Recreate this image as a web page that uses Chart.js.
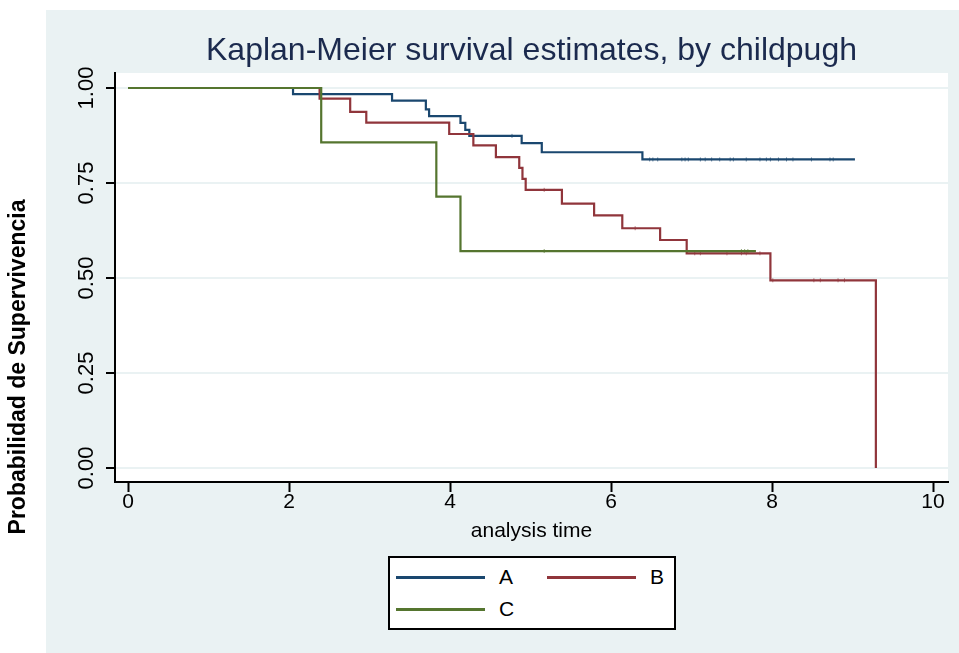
<!DOCTYPE html>
<html>
<head>
<meta charset="utf-8">
<script src="https://cdn.jsdelivr.net/npm/chart.js@4"></script>
<style>
  html, body { margin: 0; padding: 0; background: #fff; }
  #wrap { position: relative; width: 959px; height: 653px; }
  #legend {
    position: absolute; left: 388px; top: 556px; width: 284px; height: 70px;
    border: 2px solid #000; background: #fff;
    font: 21px "Liberation Sans", Arial, sans-serif; color: #000;
  }
  .item { position: absolute; height: 24px; line-height: 24px; display: flex; align-items: center; }
  .swatch { width: 89px; height: 0; border-top: 3px solid; margin-right: 14px; }
</style>
</head>
<body>
<div id="wrap">
  <canvas id="km" width="959" height="653"></canvas>
  <div id="legend">
    <div class="item" style="left:6px;top:7px"><span class="swatch" style="border-color:#1a476f"></span>A</div>
    <div class="item" style="left:157px;top:7px"><span class="swatch" style="border-color:#90353b"></span>B</div>
    <div class="item" style="left:6px;top:39px"><span class="swatch" style="border-color:#55752f"></span>C</div>
  </div>
</div>
<script>
// step times / survival estimates
const timeA = [0, 2.05, 3.28, 3.70, 3.74, 4.13, 4.19, 4.24, 4.89, 5.14, 6.39, 9.03];
const survA = [1, 0.984, 0.967, 0.944, 0.926, 0.908, 0.890, 0.874, 0.855, 0.831, 0.812, 0.812];

const timeB = [0, 2.38, 2.76, 2.96, 3.99, 4.29, 4.57, 4.86, 4.90, 4.94, 5.39, 5.79, 6.14, 6.61, 6.94, 7.98, 9.29];
const survB = [1, 0.972, 0.937, 0.909, 0.879, 0.849, 0.818, 0.790, 0.761, 0.732, 0.696, 0.665, 0.631, 0.600, 0.565, 0.494, 0];

const timeC = [0, 2.40, 3.83, 4.13, 7.80];
const survC = [1, 0.857, 0.714, 0.571, 0.571];

// censored times (small tick marks)
const censA = [4.77, 6.48, 6.52, 6.58, 6.88, 6.92, 6.96, 7.11, 7.17, 7.25, 7.35, 7.48, 7.52, 7.68, 7.85, 7.93, 7.98, 8.08, 8.18, 8.26, 8.49, 8.72, 8.76];
const censB = [5.17, 6.30, 7.04, 7.11, 7.44, 7.62, 7.68, 7.85, 8.01, 8.52, 8.60, 8.82, 8.90];
const censC = [5.17, 7.62, 7.66, 7.70];

const groups = ['A', 'B', 'C'];
const colors = ['#1a476f', '#90353b', '#55752f'];
const xTicks = [0, 2, 4, 6, 8, 10];
const yTicks = [0, 0.25, 0.5, 0.75, 1];

const PANEL = '#eaf2f3';
const FONT = '"Liberation Sans", Arial, sans-serif';

function points(times, surv) {
  return times.map((t, i) => ({ x: t, y: surv[i] }));
}

function survAt(times, surv, t) {
  let s = surv[0];
  for (let i = 0; i < times.length; i++) {
    if (times[i] <= t) s = surv[i];
  }
  return s;
}

function curve(label, times, surv, color, order) {
  return {
    label,
    data: points(times, surv),
    borderColor: color,
    borderWidth: 2.2,
    stepped: 'before', // horizontal first, then the drop
    pointRadius: 0,
    fill: false,
    order,
  };
}

function marks(times, stepT, stepS, color) {
  return {
    label: '',
    data: times.map((t) => ({ x: t, y: survAt(stepT, stepS, t) })),
    showLine: false,
    borderColor: color + 'aa',
    borderWidth: 1,
    pointStyle: 'line',
    rotation: 90,
    pointRadius: 2,
    order: 5,
  };
}

const decor = {
  id: 'decor',
  beforeDraw(chart) {
    const { ctx, chartArea: a } = chart;
    ctx.save();
    ctx.fillStyle = '#fff';
    ctx.fillRect(0, 0, chart.width, chart.height);
    ctx.fillStyle = PANEL;
    ctx.fillRect(46, 10, chart.width - 46, chart.height - 10);
    ctx.fillStyle = '#fff';
    ctx.fillRect(a.left, a.top, a.right - a.left, a.bottom - a.top);
    ctx.restore();
  },
  afterDraw(chart) {
    const { ctx, chartArea: a } = chart;
    const y = chart.scales.y;
    ctx.save();
    // title
    ctx.fillStyle = '#1b2a4e';
    ctx.font = '32px ' + FONT;
    ctx.textAlign = 'center';
    ctx.textBaseline = 'middle';
    ctx.fillText('Kaplan-Meier survival estimates, by childpugh', (a.left + a.right) / 2, 51);
    // rotated y tick labels
    ctx.fillStyle = '#000';
    ctx.font = '22px ' + FONT;
    yTicks.forEach((v) => {
      ctx.save();
      ctx.translate(87, y.getPixelForValue(v));
      ctx.rotate(-Math.PI / 2);
      ctx.fillText(v.toFixed(2), 0, 0);
      ctx.restore();
    });
    // y axis title
    ctx.font = 'bold 23px ' + FONT;
    ctx.translate(19, 367);
    ctx.rotate(-Math.PI / 2);
    ctx.fillText('Probabilidad de Supervivencia', 0, 0);
    ctx.restore();
  },
};

new Chart(document.getElementById('km'), {
  type: 'line',
  data: {
    datasets: [
      curve(groups[0], timeA, survA, colors[0], 3),
      curve(groups[1], timeB, survB, colors[1], 2),
      curve(groups[2], timeC, survC, colors[2], 1),
      marks(censA, timeA, survA, colors[0]),
      marks(censB, timeB, survB, colors[1]),
      marks(censC, timeC, survC, colors[2]),
    ],
  },
  options: {
    responsive: false,
    animation: false,
    devicePixelRatio: 1,
    layout: { padding: { top: 73, right: 11, left: 0, bottom: 0 } },
    plugins: {
      legend: { display: false },
      title: { display: false },
      tooltip: { enabled: false },
    },
    scales: {
      x: {
        type: 'linear',
        min: -0.1615,
        max: 10.186,
        afterBuildTicks: (s) => { s.ticks = xTicks.map((v) => ({ value: v })); },
        afterFit: (s) => { s.height = 171; },
        border: { color: '#000', width: 2 },
        grid: { drawOnChartArea: false, tickLength: 10, tickColor: '#000', tickWidth: 2 },
        ticks: {
          color: '#000',
          padding: 0,
          font: { family: FONT, size: 21, lineHeight: 1 },
          callback: (v) => String(v),
        },
        title: {
          display: true,
          text: 'analysis time',
          color: '#000',
          font: { family: FONT, size: 21, lineHeight: 1.2 },
          padding: { top: 0, bottom: 109 },
        },
      },
      y: {
        type: 'linear',
        min: -0.0368,
        max: 1.0395,
        afterBuildTicks: (s) => { s.ticks = yTicks.map((v) => ({ value: v })); },
        afterFit: (s) => { s.width = 115; },
        border: { color: '#000', width: 2 },
        grid: { color: PANEL, lineWidth: 2, tickLength: 9, tickColor: '#000', tickWidth: 2 },
        ticks: { display: false },
      },
    },
  },
  plugins: [decor],
});
</script>
</body>
</html>
